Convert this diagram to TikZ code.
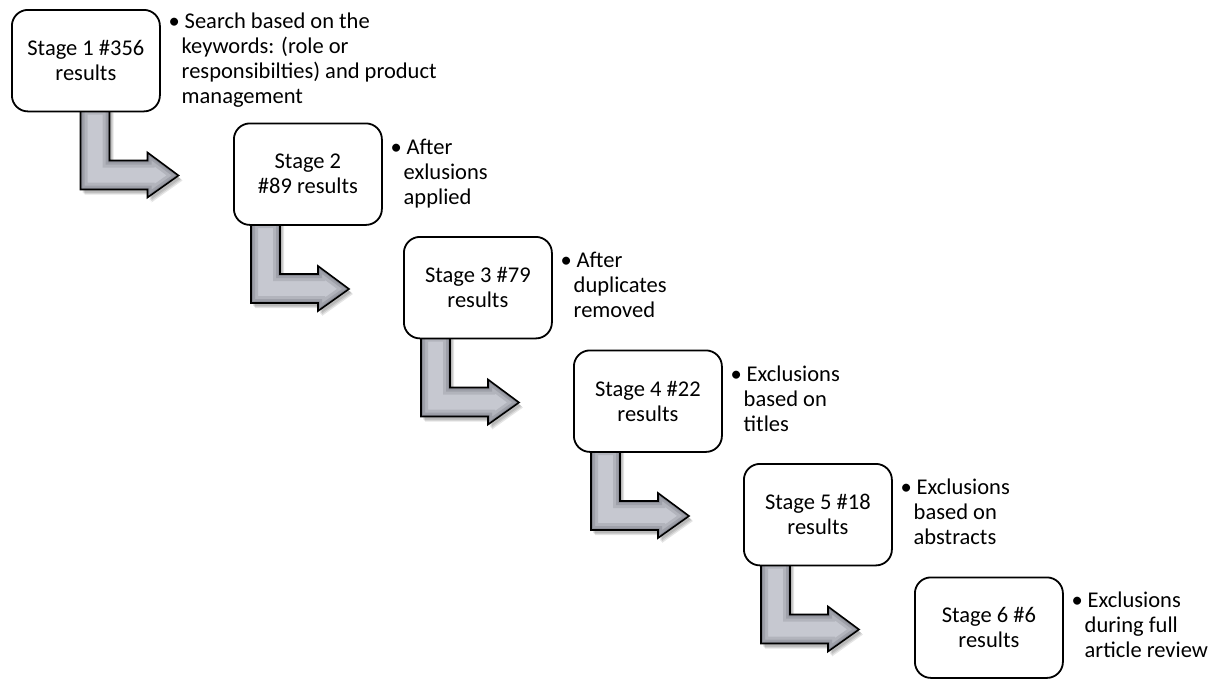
\documentclass[tikz,border=0pt]{standalone}
\usepackage{fontspec}
\setmainfont{Carlito}
\usetikzlibrary{calc}
\definecolor{arrlight}{RGB}{198,200,208}
\definecolor{arrdark}{RGB}{90,92,102}
\newcommand{\arrpath}{(0,-3) -- (29,-3) -- (29,50) -- (67,50) -- (67,42) -- (98,65) -- (67,87) -- (67,79) -- (0,79) -- cycle}
\newcommand{\notetext}[3]{\begin{tabular}{@{}l@{\hspace{2pt}}l@{}}•&\hspace{3pt}#1\\#2#3\end{tabular}}
\tikzset{
  stagebox/.style={draw=black, line width=1.8pt, fill=white, rounded corners=16pt,
    minimum width=148pt, minimum height=101.5pt, align=center, inner sep=0pt,
    anchor=north west, font=\fontsize{22.5}{25}\selectfont},
  note/.style={anchor=west, inner sep=0pt, font=\fontsize{22.5}{25}\selectfont},
  bentarrow/.pic={
    \fill[black, opacity=0.10, shift={(2,3)}] \arrpath;
    \fill[black, opacity=0.10, shift={(4,5)}] \arrpath;
    \fill[black, opacity=0.10, shift={(3,4)}] \arrpath;
    \begin{scope}
      \clip \arrpath;
      \fill[arrlight] \arrpath;
      \draw[arrdark, opacity=0.18, line width=14pt] \arrpath;
      \draw[arrdark, opacity=0.22, line width=8pt] \arrpath;
      \draw[arrdark, opacity=0.30, line width=3.5pt] \arrpath;
    \end{scope}
    \draw[black, line width=1.6pt] \arrpath;
  }
}
\begin{document}
\begin{tikzpicture}[x=1pt, y=-1pt]
\useasboundingbox (0,0) rectangle (1218,678);
% boxes (coordinates placed first so arrows sit beneath)
\coordinate (b1) at (11,9);
\coordinate (b2) at (233,122.5);
\coordinate (b3) at (403,236);
\coordinate (b4) at (573,349.5);
\coordinate (b5) at (743,463);
\coordinate (b6) at (914,576.5);
% arrows
\pic at ($(b1)+(69.5,101.5)$) {bentarrow};
\pic at ($(b2)+(18,101.5)$) {bentarrow};
\pic at ($(b3)+(18,101.5)$) {bentarrow};
\pic at ($(b4)+(18,101.5)$) {bentarrow};
\pic at ($(b5)+(18,101.5)$) {bentarrow};
% stage boxes
\node[stagebox] (s1) at (b1) {Stage 1 \#356\\results};
\node[stagebox] (s2) at (b2) {Stage 2\\\#89 results};
\node[stagebox] (s3) at (b3) {Stage 3 \#79\\results};
\node[stagebox] (s4) at (b4) {Stage 4 \#22\\results};
\node[stagebox] (s5) at (b5) {Stage 5 \#18\\results};
\node[stagebox, minimum height=100.5pt] (s6) at (b6) {Stage 6 \#6\\results};
% notes
\node[note] (n1) at ($(s1.east)+(7.5,0)$) {\notetext{Search based on the}{&keywords: (role or\\&responsibilties) and product\\}{&management}};
\node[note] (n2) at ($(s2.east)+(7.5,0)$) {\notetext{After}{&exlusions\\}{&applied}};
\node[note] (n3) at ($(s3.east)+(7.5,0)$) {\notetext{After}{&duplicates\\}{&removed}};
\node[note] (n4) at ($(s4.east)+(7.5,0)$) {\notetext{Exclusions}{&based on\\}{&titles}};
\node[note] (n5) at ($(s5.east)+(7.5,0)$) {\notetext{Exclusions}{&based on\\}{&abstracts}};
\node[note] (n6) at ($(s6.east)+(7.5,0)$) {\notetext{Exclusions}{&during full\\}{&article review}};
\end{tikzpicture}
\end{document}
